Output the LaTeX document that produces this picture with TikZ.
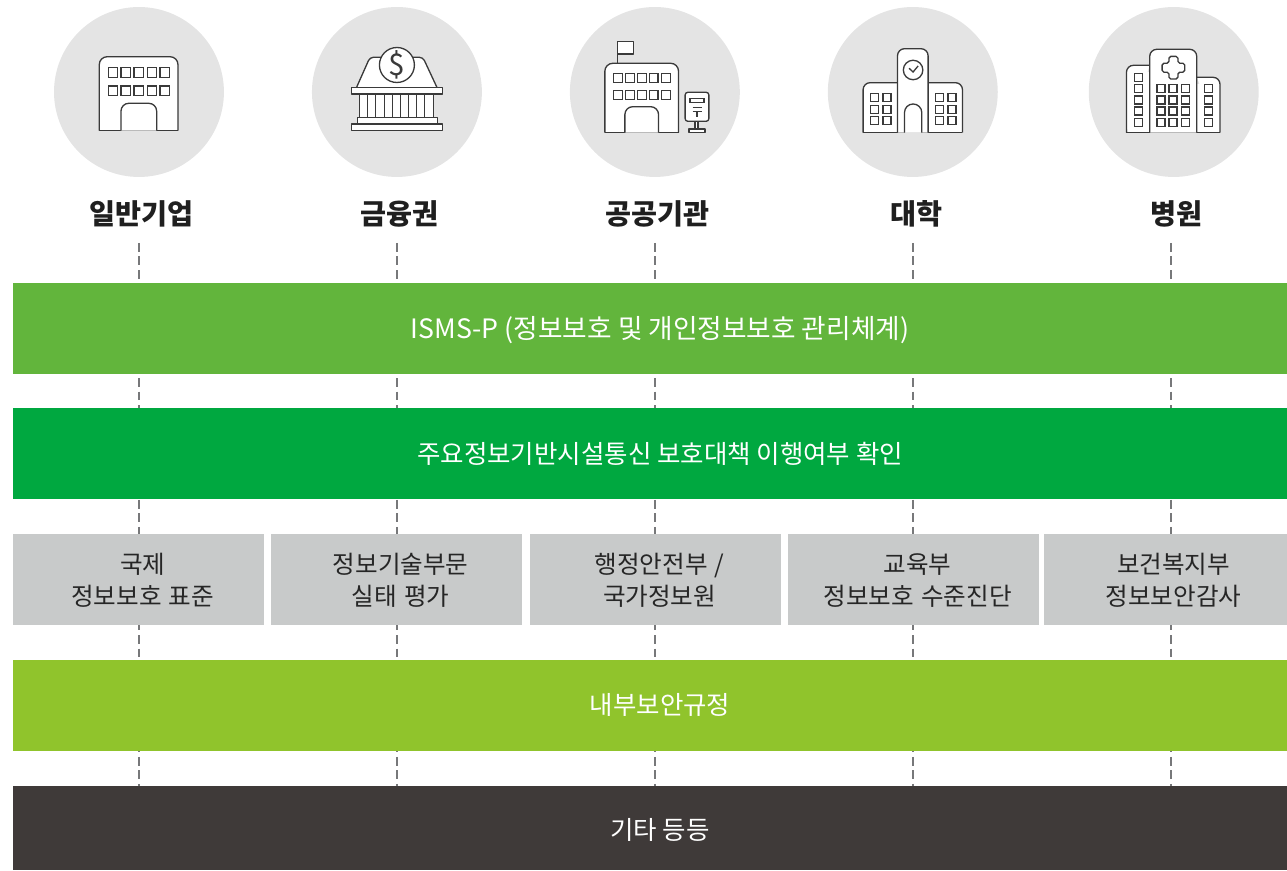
\documentclass[tikz,border=0pt]{standalone}
\usepackage{fontspec}
\setmainfont{Noto Sans CJK KR}
\newfontfamily\auditfont[WordSpace=1.3]{Noto Sans CJK KR}
\usetikzlibrary{backgrounds}
\definecolor{CircleGray}{HTML}{E4E4E4}
\definecolor{DashGray}{HTML}{77787A}
\definecolor{IconLine}{HTML}{3A3A3A}
\definecolor{IsmsGreen}{HTML}{62B53C}
\definecolor{InfraGreen}{HTML}{00A840}
\definecolor{AuditGray}{HTML}{C8CACA}
\definecolor{RuleLime}{HTML}{90C42C}
\definecolor{EtcDark}{HTML}{3F3A39}
\definecolor{TitleBlack}{HTML}{1F1F1F}
\newcommand{\AuditText}[2][0.16cm]{\hspace*{#1}\raisebox{-5.4pt}[0pt][0pt]{\begin{tabular}{@{}c@{}}#2\end{tabular}}}
\newcommand{\BandText}[2][5.3pt]{\hspace*{0.4cm}\raisebox{-#1}[0pt][0pt]{#2}}
\begin{document}
\begin{tikzpicture}
[
x=0.02cm,y=-0.02cm,
Disc/.style={circle,fill=CircleGray,draw=none,minimum size=3.4cm,inner sep=0pt},
Title/.style={font=\fontsize{16.1}{18}\selectfont\bfseries,text=TitleBlack,inner sep=0pt},
Band/.style={rectangle,draw=none,minimum width=25.48cm,minimum height=1.82cm,inner sep=0pt,text=white,font=\fontsize{14.5}{19}\selectfont},
Audit/.style={rectangle,draw=none,fill=AuditGray,minimum height=1.82cm,inner sep=0pt,text=black!85,font=\auditfont\fontsize{14}{18}\selectfont},
DashLine/.style={draw=DashGray,line width=1.4pt,dash pattern=on 4.9pt off 2.8pt},
Icon/.style={draw=IconLine,fill=white,line width=0.75pt,line join=round},
Shell/.style={Icon,rounded corners=4.5pt},
Pane/.style={draw=IconLine,fill=white,line width=0.75pt},
]

% discs
\node[Disc] (disc1) at (139,92) {};
\node[Disc] (disc2) at (397,92) {};
\node[Disc] (disc3) at (655,92) {};
\node[Disc] (disc4) at (913,92) {};
\node[Disc] (disc5) at (1174,92) {};

% titles
\node[Title] (corp) at (142,214) {일반기업};
\node[Title] (bank) at (400,214) {금융권};
\node[Title] (publ) at (658,214) {공공기관};
\node[Title] (univ) at (917,214) {대학};
\node[Title] (hosp) at (1177,214) {병원};

% bands
\node[Band,fill=IsmsGreen,anchor=north west] (isms) at (13,283) {\BandText{\fontsize{15.2}{19}\selectfont ISMS-P (정보보호 및 개인정보보호 관리체계)}};
\node[Band,fill=InfraGreen,anchor=north west] (infra) at (13,408) {\BandText{주요정보기반시설통신 보호대책 이행여부 확인}};
\node[Audit,minimum width=5.02cm,anchor=north west] (audit1) at (13,534) {\AuditText{국제\\정보보호 표준}};
\node[Audit,minimum width=5.02cm,anchor=north west] (audit2) at (271,534) {\AuditText{정보기술부문\\실태 평가}};
\node[Audit,minimum width=5.02cm,anchor=north west] (audit3) at (530,534) {\AuditText{행정안전부 /\\국가정보원}};
\node[Audit,minimum width=5.02cm,anchor=north west] (audit4) at (788,534) {\AuditText{교육부\\정보보호 수준진단}};
\node[Audit,minimum width=4.86cm,anchor=north west] (audit5) at (1044,534) {\AuditText[0.32cm]{보건복지부\\정보보안감사}};
\node[Band,fill=RuleLime,anchor=north west] (rule) at (13,660) {\BandText[5pt]{내부보안규정}};
\node[Band,fill=EtcDark,anchor=north west,minimum height=1.68cm] (etc) at (13,786) {\BandText[6.4pt]{기타 등등}};

% dashes run behind the bands
\begin{scope}[on background layer]
\foreach \col/\xpos in {1/139,2/397,3/655,4/913,5/1171}{
  \coordinate (top\col) at (\xpos,243);
  \draw[DashLine] (top\col) -- (top\col |- etc.north);
}
\end{scope}

% office
\draw[Shell] (99.3,130.7) -- (99.3,56.7) -- (178,56.7) -- (178,130.7);
\draw[Icon] (99.3,130.7) -- (178,130.7);
\foreach \wx in {108.3,121,134,147.3,160}{
  \draw[Pane] (\wx,67.7) rectangle +(9.5,9.5);
  \draw[Pane] (\wx,86) rectangle +(9.5,9.5);
}
\draw[Shell] (121,130.7) -- (121,103.3) -- (156.7,103.3) -- (156.7,130.7);

% bank
\draw[Icon,rounded corners=2pt] (356.7,87.3) -- (370,57.3) -- (423,57.3) -- (437,87.3);
\draw[Icon] (359.3,94) rectangle (433.3,117.3);
\draw[Icon] (351.7,87.3) rectangle (442.3,94);
\draw[Icon] (357.3,117.3) rectangle (437.3,124);
\draw[Icon] (351.7,124) rectangle (442.3,130.7);
\foreach \wx in {367.7,384.3,400.3,416.7}{
  \draw[Pane] (\wx,94) rectangle +(8,23.3);
}
\node[circle,draw=IconLine,fill=white,line width=0.75pt,minimum size=0.7cm,inner sep=0pt,font=\fontsize{17}{17}\selectfont,text=IconLine] (coin) at (397,65) {\$};

% public office
\draw[Icon] (617.7,63.3) -- (617.7,41.7) -- (633.7,41.7) -- (633.7,54) -- (617.7,54);
\draw[Shell] (605,132.7) -- (605,63.3) -- (678.7,63.3) -- (678.7,132.7);
\draw[Icon] (605,132.7) -- (678.7,132.7);
\foreach \wx in {613.3,625.3,637.3,649.3,661.7}{
  \draw[Pane] (\wx,73.3) rectangle +(9,9);
  \draw[Pane] (\wx,90.5) rectangle +(9,9);
}
\draw[Shell] (625,132.7) -- (625,106.7) -- (658.7,106.7) -- (658.7,132.7);
\draw[Icon] (695,121.3) rectangle (698.3,129);
\draw[Icon] (689.3,129) rectangle (705,132.7);
\draw[Icon,rounded corners=1.5pt] (685.3,92.3) rectangle (709,121.3);
\draw[Pane] (690,98.3) rectangle (704.3,102.3);
\draw[IconLine,line width=0.75pt] (692.7,107.3) -- (701.7,107.3) (692.7,111.7) -- (701.7,111.7) (697.2,111.7) -- (697.2,116.7);

% university
\draw[Shell,rounded corners=4pt] (863.3,132.7) -- (863.3,82.7) -- (962.7,82.7) -- (962.7,132.7);
\draw[Icon] (863.3,132.7) -- (962.7,132.7);
\draw[Shell,rounded corners=4pt] (897.7,132.7) -- (897.7,48.7) -- (928.3,48.7) -- (928.3,132.7);
\draw[Shell,rounded corners=4.9pt] (904.7,132.7) -- (904.7,104) -- (922,104) -- (922,132.7);
\node[circle,draw=IconLine,line width=0.75pt,minimum size=0.39cm,inner sep=0pt] (clock) at (913.3,70) {};
\draw[IconLine,line width=0.75pt] (909.3,68.3) -- (913.3,72) -- (918.3,66);
\foreach \wy in {93.3,105.3,116.7}{
  \foreach \wx in {871,883.2,936,948.2}{
    \draw[Pane] (\wx,\wy) rectangle +(8,8);
  }
}

% hospital
\fill[white] (1128,72) rectangle (1150,132.7);
\fill[white] (1197,84) rectangle (1219,132.7);
\draw[Shell,rounded corners=4pt] (1126.7,132.7) -- (1126.7,65.3) -- (1150,65.3);
\draw[Shell,rounded corners=4pt] (1197,77.3) -- (1220.3,77.3) -- (1220.3,132.7);
\draw[Icon] (1126.7,132.7) -- (1220.3,132.7);
\draw[Shell,rounded corners=4pt] (1150,132.7) -- (1150,49.3) -- (1197,49.3) -- (1197,132.7);
\draw[Icon,rounded corners=1pt] (1169.2,56.4) -- (1178.2,56.4) -- (1178.2,63.2) -- (1185,63.2) -- (1185,72.2) -- (1178.2,72.2) -- (1178.2,79) -- (1169.2,79) -- (1169.2,72.2) -- (1162.4,72.2) -- (1162.4,63.2) -- (1169.2,63.2) -- cycle;
\draw[Pane] (1135,73.3) rectangle +(8,8);
\foreach \wy in {84.7,96,107,118.3}{
  \foreach \wx in {1135,1157.3,1169.3,1181.7,1204.7}{
    \draw[Pane] (\wx,\wy) rectangle +(8,8);
  }
}

\path[use as bounding box] (0,0) rectangle (1287,870);
\end{tikzpicture}
\end{document}
